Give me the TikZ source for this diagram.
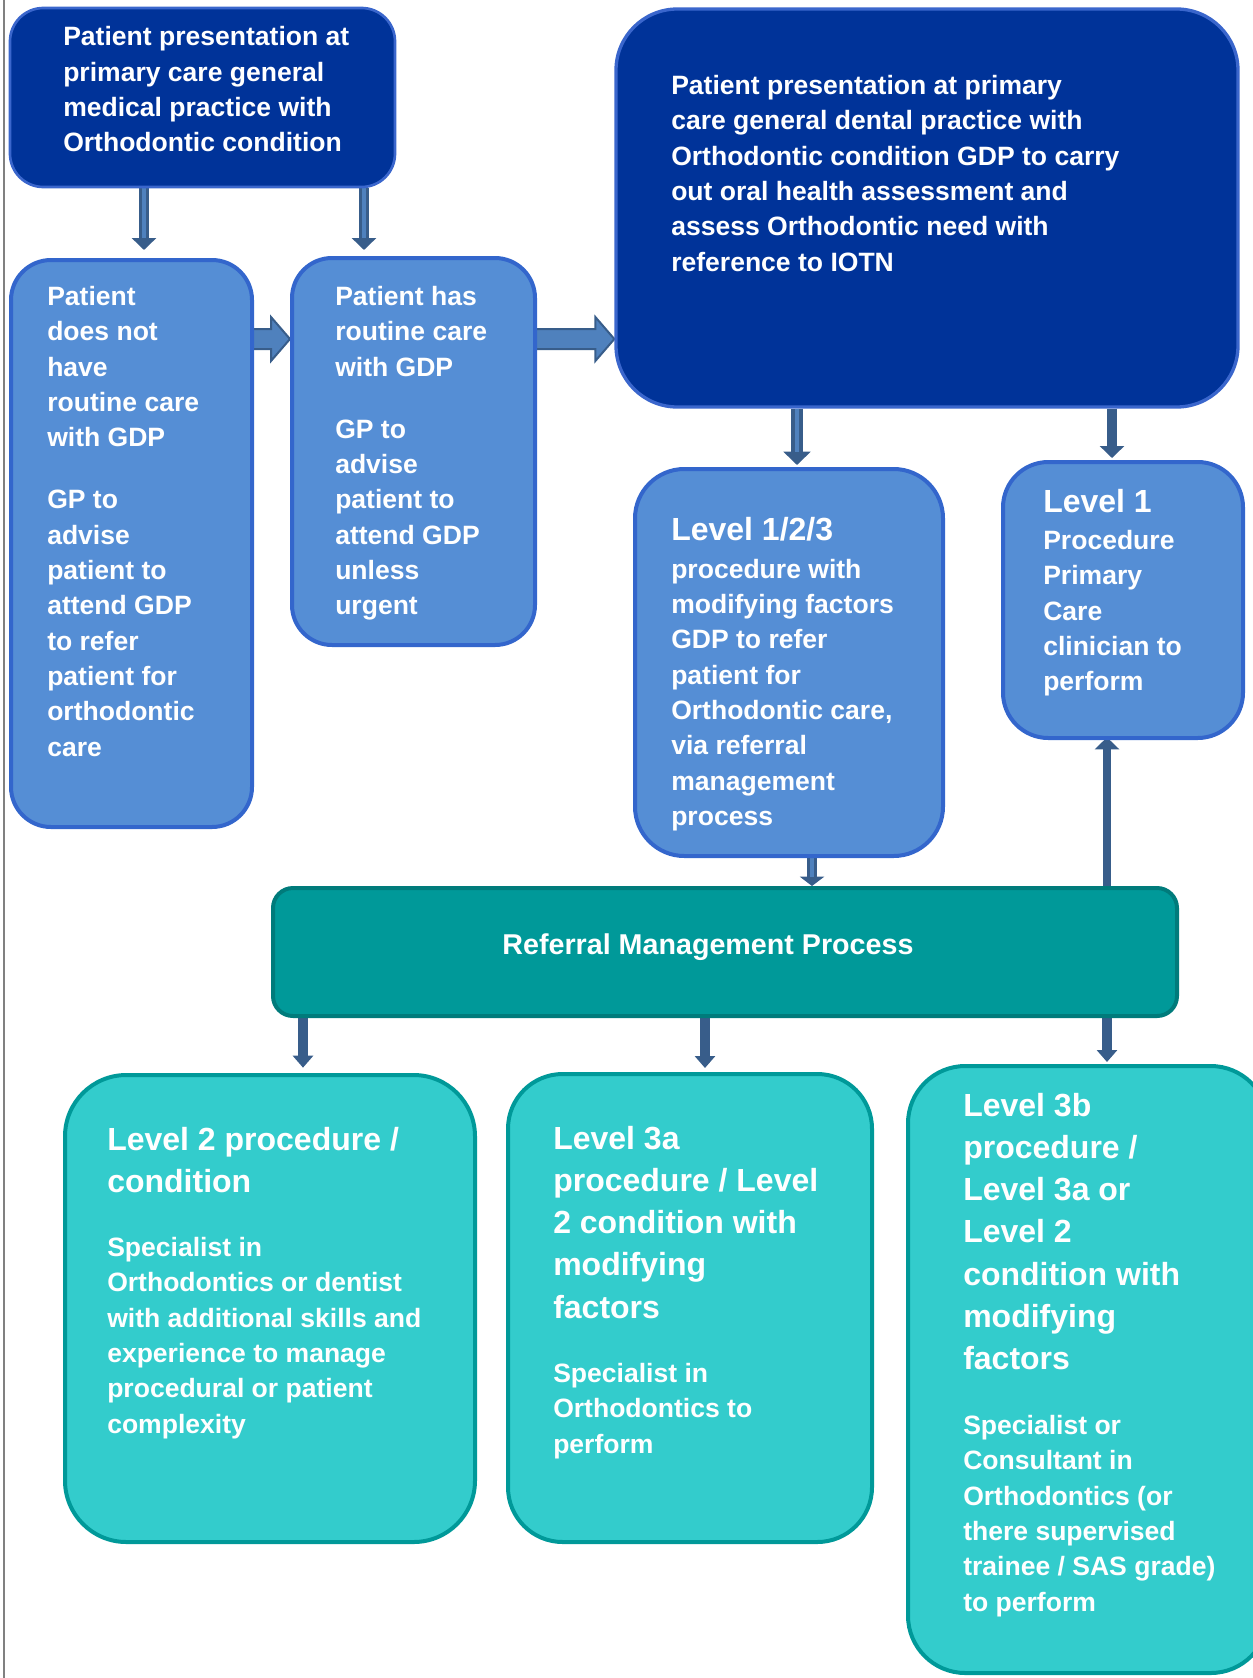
\documentclass[tikz,border=0pt]{standalone}
\usepackage{fontspec}
\setmainfont{Liberation Sans}
\usetikzlibrary{arrows.meta,fit,calc}
\definecolor{darkfill}{HTML}{003399}
\definecolor{darkedge}{HTML}{3A66CC}
\definecolor{midfill}{HTML}{558ED5}
\definecolor{midedge}{HTML}{3366CC}
\definecolor{tealfill}{HTML}{009999}
\definecolor{tealedge}{HTML}{007B7B}
\definecolor{cyanfill}{HTML}{33CCCC}
\definecolor{cyanedge}{HTML}{009999}
\definecolor{arrowdark}{HTML}{385D8A}
\definecolor{arrowlight}{HTML}{4F81BD}
\definecolor{edgegrey}{HTML}{808080}
\pgfdeclarelayer{bg}
\pgfsetlayers{bg,main}
\begin{document}
\begin{tikzpicture}[x=0.75pt,y=-0.75pt,
  box/.style={inner sep=0pt, line width=3pt},
  darkbox/.style={box, draw=darkedge, fill=darkfill, line width=2pt},
  midbox/.style={box, draw=midedge, fill=midfill},
  tealbox/.style={box, draw=tealedge, fill=tealfill},
  cyanbox/.style={box, draw=cyanedge, fill=cyanfill},
  txt/.style={text=white, align=left, inner sep=0pt, anchor=north west, font=\bfseries\fontsize{19.9}{26.5}\selectfont},
  headtxt/.style={txt, font=\bfseries\fontsize{24}{31.6}\selectfont},
  varrow/.style={draw=arrowdark, line width=7.5pt, -{Triangle[width=18pt,length=9pt]}},
  vinner/.style={draw=arrowlight, line width=2.5pt},
  blockarrow/.style={fill=arrowlight, draw=arrowdark, line width=1.5pt, line join=miter}
]
\clip (0,0) rectangle (1253,1678);
\draw[edgegrey, line width=1.2pt] (4,0) -- (4,1678);

% boxes
\node[darkbox, rounded corners=25pt, fit={(10,8) (395,187)}] (A) {};
\node[midbox, rounded corners=30pt, fit={(11,260) (252,827)}] (B) {};
\node[midbox, rounded corners=30pt, fit={(292,258) (535,645)}] (C) {};
\node[darkbox, line width=2.5pt, rounded corners=46pt, fit={(616,9) (1238,407)}] (D) {};
\node[midbox, rounded corners=37pt, fit={(635,469) (943,856)}] (E) {};
\node[midbox, rounded corners=34pt, fit={(1003,462) (1243,738)}] (F) {};
\node[tealbox, rounded corners=15pt, fit={(273,888) (1177,1016)}] (G) {};
\node[cyanbox, rounded corners=46pt, fit={(65,1075) (475,1542)}] (H) {};
\node[cyanbox, rounded corners=41pt, fit={(508,1074) (872,1542)}] (I) {};
\node[cyanbox, rounded corners=43pt, fit={(908,1066) (1268,1673)}] (J) {};

% texts
\node[txt] (tA) at (63,26.5) {Patient presentation at\\primary care general\\medical practice with\\Orthodontic condition};
\node[txt] (tB) at (47,286) {Patient\\does not\\have\\routine care\\with GDP\\[20pt]GP to\\advise\\patient to\\attend GDP\\to refer\\patient for\\orthodontic\\care};
\node[txt] (tC) at (335,286) {Patient has\\routine care\\with GDP\\[20pt]GP to\\advise\\patient to\\attend GDP\\unless\\urgent};
\node[txt] (tD) at (671,75) {Patient presentation at primary\\care general dental practice with\\Orthodontic condition GDP to carry\\out oral health assessment and\\assess Orthodontic need with\\reference to IOTN};
\node[headtxt] (hE) at (671,517) {Level 1/2/3};
\node[txt] (tE) at (671,558.5) {procedure with\\modifying factors\\GDP to refer\\patient for\\Orthodontic care,\\via referral\\management\\process};
\node[headtxt] (hF) at (1043,489) {Level 1};
\node[txt] (tF) at (1043,530) {Procedure\\Primary\\Care\\clinician to\\perform};
\node[txt, anchor=center, font=\bfseries\fontsize{21.5}{26}\selectfont] (tG) at (708,947) {Referral Management Process};
\node[headtxt] (hH) at (107,1127) {Level 2 procedure /\\condition};
\node[txt] (tH) at (107,1237) {Specialist in\\Orthodontics or dentist\\with additional skills and\\experience to manage\\procedural or patient\\complexity};
\node[headtxt] (hI) at (553,1126) {Level 3a\\procedure / Level\\2 condition with\\modifying\\factors};
\node[txt] (tI) at (553,1363) {Specialist in\\Orthodontics to\\perform};
\node[headtxt] (hJ) at (963,1093) {Level 3b\\procedure /\\Level 3a or\\Level 2\\condition with\\modifying\\factors};
\node[txt] (tJ) at (963,1415) {Specialist or\\Consultant in\\Orthodontics (or\\there supervised\\trainee / SAS grade)\\to perform};

% connectors
\begin{pgfonlayer}{bg}
\coordinate (cAB) at (144,0);
\coordinate (cAC) at (364,0);
\coordinate (cDE) at (797,0);
\coordinate (cDF) at (1112,0);
\coordinate (cEG) at (812,0);
\coordinate (cGF) at (1107,0);
\coordinate (cGH) at (303,0);
\coordinate (cGI) at (705,0);
\coordinate (row) at (0,339);

\draw[varrow, shorten >=6pt] (A.south -| cAB) -- (B.north -| cAB);
\draw[vinner, shorten >=15pt] (A.south -| cAB) -- (B.north -| cAB);
\draw[varrow, shorten >=4.5pt] (A.south -| cAC) -- (C.north -| cAC);
\draw[vinner, shorten >=13.5pt] (A.south -| cAC) -- (C.north -| cAC);

\draw[varrow, line width=8.5pt, -{Triangle[width=20pt,length=10pt]}, shorten >=1.5pt] (D.south -| cDE) -- (E.north -| cDE);
\draw[vinner, shorten >=11.5pt] (D.south -| cDE) -- (E.north -| cDE);
\draw[varrow, shorten >=1.5pt] (D.south -| cDF) -- (F.north -| cDF);

\draw[varrow, -{Triangle[width=18pt,length=7pt]}] (E.south -| cEG) -- (G.north -| cEG);
\draw[vinner, shorten >=7pt] (E.south -| cEG) -- (G.north -| cEG);
\draw[varrow, line width=6pt, shorten >=-2pt] (G.north -| cGF) -- (F.south -| cGF);

\draw[varrow, -{Triangle[width=15pt,length=9pt]}, shorten >=4pt] (G.south -| cGH) -- (H.north -| cGH);
\draw[varrow, -{Triangle[width=15pt,length=9pt]}, shorten >=3pt] (G.south -| cGI) -- (I.north -| cGI);
\draw[varrow, -{Triangle[width=15pt,length=9pt]}, shorten >=1.5pt] (G.south -| cGF) -- (J.north -| cGF);

\path (B.east |- row) coordinate (s1) (C.west |- row) coordinate (e1);
\filldraw[blockarrow] ($(s1)+(-6,-10)$) -- ($(e1)+(-19,-10)$) -- ($(e1)+(-19,-22)$) -- (e1) -- ($(e1)+(-19,22)$) -- ($(e1)+(-19,10)$) -- ($(s1)+(-6,10)$);
\path (C.east |- row) coordinate (s2) (D.west |- row) coordinate (e2);
\filldraw[blockarrow] ($(s2)+(-6,-10)$) -- ($(e2)+(-19,-10)$) -- ($(e2)+(-19,-22)$) -- (e2) -- ($(e2)+(-19,22)$) -- ($(e2)+(-19,10)$) -- ($(s2)+(-6,10)$);
\end{pgfonlayer}
\end{tikzpicture}
\end{document}
